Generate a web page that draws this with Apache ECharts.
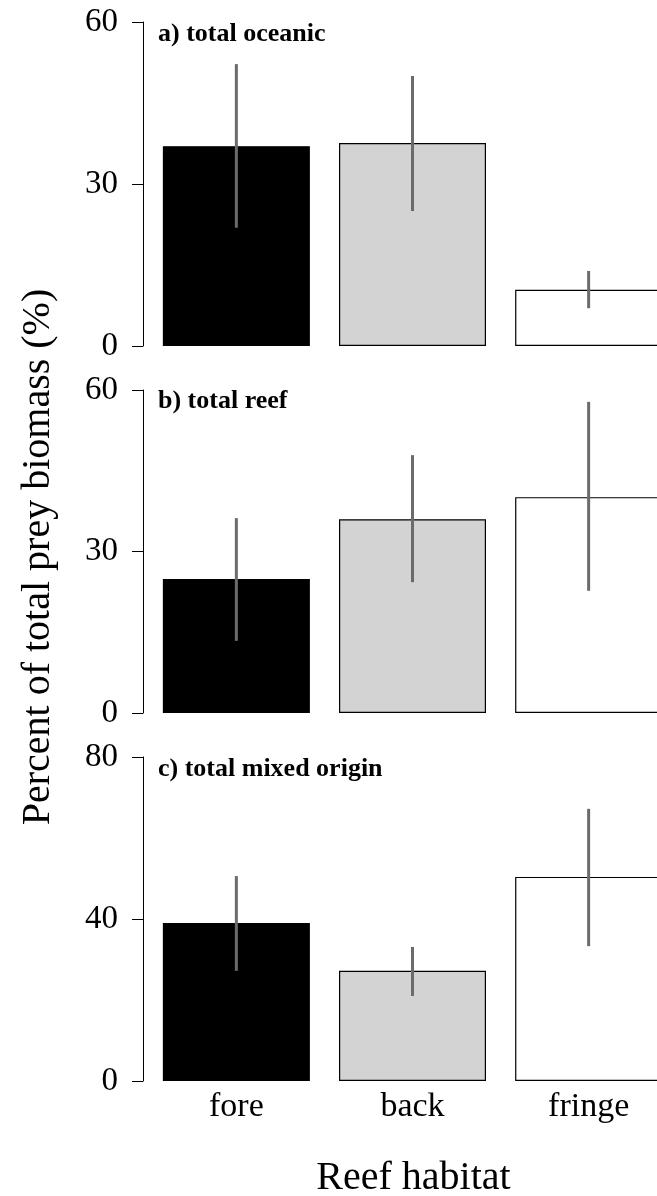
<!DOCTYPE html>
<html><head><meta charset="utf-8">
<script src="https://cdn.jsdelivr.net/npm/echarts@6/dist/echarts.min.js"></script>
<style>html,body{margin:0;padding:0;background:#fff}#c{width:657px;height:1196px}</style>
</head><body><div id="c"></div>
<script>
const habitats = ['fore', 'back', 'fringe'];
const barPositions = [0.7, 1.9, 3.1];
const barColors = ['#000000', '#d3d3d3', '#ffffff'];
const panelLabels = ['a) total oceanic', 'b) total reef', 'c) total mixed origin'];
const oceanicMean = [37.0, 37.6, 10.4];
const oceanicLow  = [21.9, 25.0, 7.0];
const oceanicHigh = [52.2, 50.0, 13.9];
const reefMean = [24.9, 36.0, 40.1];
const reefLow  = [13.4, 24.3, 22.7];
const reefHigh = [36.2, 47.9, 57.8];
const mixedMean = [39.0, 27.2, 50.4];
const mixedLow  = [27.2, 21.0, 33.3];
const mixedHigh = [50.6, 33.1, 67.2];
const yMax = [60, 60, 80];
const yInterval = [30, 30, 40];
const yTitle = 'Percent of total prey biomass (%)';
const xTitle = 'Reef habitat';

const FONT = "'Liberation Serif', 'DejaVu Serif', serif";
const panels = [
  {mean: oceanicMean, low: oceanicLow, high: oceanicHigh},
  {mean: reefMean, low: reefLow, high: reefHigh},
  {mean: mixedMean, low: mixedLow, high: mixedHigh}
];
const gridTops = [22, 390, 757];
const gridHeights = [324, 323, 324];
const labelTops = [21.5, 388.5, 756];

const grid = [], xAxis = [], yAxis = [], series = [], title = [];
panels.forEach((p, i) => {
  grid.push({left: 143, width: 539, top: gridTops[i], height: gridHeights[i],
             containLabel: false, outerBoundsMode: 'none'});
  const isLast = i === panels.length - 1;
  xAxis.push({
    type: 'value', gridIndex: i, min: 0.064, max: 3.736,
    axisLine: {show: false}, axisTick: {show: false}, splitLine: {show: false},
    axisLabel: {
      show: isLast, customValues: barPositions, margin: 9,
      fontSize: 34, fontFamily: FONT, color: '#000',
      formatter: v => {
        let best = 0;
        barPositions.forEach((b, k) => { if (Math.abs(b - v) < Math.abs(barPositions[best] - v)) best = k; });
        return habitats[best];
      }
    }
  });
  yAxis.push({
    type: 'value', gridIndex: i, min: 0, max: yMax[i], interval: yInterval[i],
    axisLine: {show: true, lineStyle: {color: '#000', width: 1}},
    axisTick: {show: true, length: 11, lineStyle: {color: '#000', width: 1}},
    axisLabel: {margin: 25, fontSize: 33, fontFamily: FONT, color: '#000'},
    splitLine: {show: false}
  });
  series.push({
    type: 'bar', xAxisIndex: i, yAxisIndex: i, barWidth: 147,
    data: p.mean.map((m, k) => ({
      value: [barPositions[k], m],
      itemStyle: {color: barColors[k], borderColor: '#000', borderWidth: 1.2}
    })),
    silent: true, z: 2
  });
  series.push({
    type: 'custom', xAxisIndex: i, yAxisIndex: i, z: 5, silent: true,
    data: p.mean.map((m, k) => [barPositions[k], p.low[k], p.high[k]]),
    encode: {x: 0, y: [1, 2]},
    renderItem: (params, api) => {
      const x = api.value(0);
      const a = api.coord([x, api.value(1)]);
      const b = api.coord([x, api.value(2)]);
      return {type: 'line', shape: {x1: a[0], y1: a[1], x2: b[0], y2: b[1]},
              style: {stroke: '#6b6b6b', lineWidth: 3}};
    }
  });
  title.push({
    text: panelLabels[i], left: 158, top: labelTops[i], padding: 0,
    textStyle: {fontFamily: FONT, fontWeight: 'bold', fontSize: 26, color: '#000'}
  });
});

const chart = echarts.init(document.getElementById('c'), null, {renderer: 'canvas'});
chart.setOption({
  animation: false,
  backgroundColor: '#fff',
  title, grid, xAxis, yAxis, series,
  graphic: [
    {type: 'text', x: 38.5, y: 557, rotation: Math.PI / 2,
     style: {text: yTitle, fontSize: 40, fontFamily: FONT, fill: '#000', textAlign: 'center', textVerticalAlign: 'middle'}},
    {type: 'text', x: 413.5, y: 1178.5,
     style: {text: xTitle, fontSize: 40, fontFamily: FONT, fill: '#000', textAlign: 'center', textVerticalAlign: 'middle'}}
  ]
});
</script></body></html>
